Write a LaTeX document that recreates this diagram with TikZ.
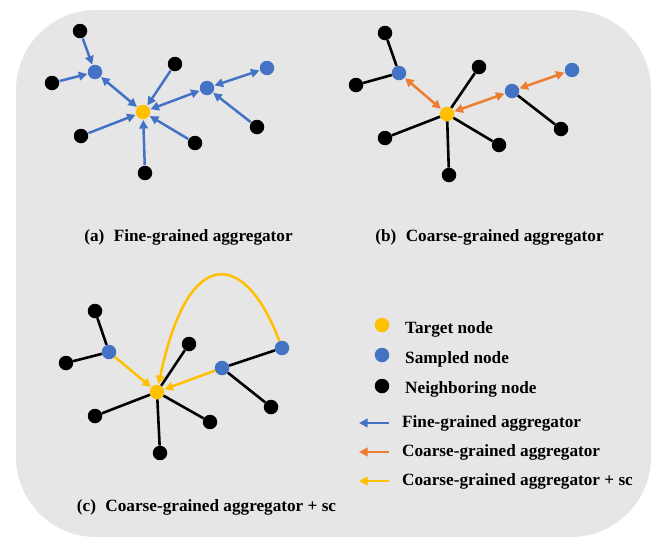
\documentclass[tikz,border=0pt]{standalone}
\usepackage{fontspec}
\setmainfont{Liberation Serif}
\usetikzlibrary{arrows.meta}
\definecolor{bgc}{RGB}{230,230,230}
\definecolor{bluec}{RGB}{68,114,196}
\definecolor{orangec}{RGB}{237,125,49}
\definecolor{yellowc}{RGB}{255,192,0}
\tikzset{
  dot/.style={circle, minimum size=14.5pt, inner sep=0pt, draw=none},
  tnode/.style={dot, fill=yellowc},
  snode/.style={dot, fill=bluec},
  nnode/.style={dot, fill=black},
  plain/.style={line width=2.6pt, black},
  tip/.style={-{Triangle[length=8.5pt,width=8.5pt]}},
  dtip/.style={{Triangle[length=8.5pt,width=8.5pt]}-{Triangle[length=8.5pt,width=8.5pt]}},
  fine/.style={line width=2.5pt, bluec, shorten >=0.5pt, shorten <=0.5pt},
  coarse/.style={line width=2.5pt, orangec, shorten >=0.5pt, shorten <=0.5pt},
  sc/.style={line width=2.5pt, yellowc, shorten >=0.5pt},
  lbl/.style={font=\bfseries\fontsize{17.2}{20}\selectfont, inner sep=0pt},
}
\begin{document}
\begin{tikzpicture}[x=1pt,y=-1pt]
\useasboundingbox (0,0) rectangle (664,549);
\fill[bgc, rounded corners=80pt] (16,10) rectangle (651,537);

% ---------- panel (a)
\node[nnode] (a1) at (80,31) {};
\node[snode] (a2) at (95,72) {};
\node[nnode] (a3) at (52,83) {};
\node[nnode] (a4) at (175,64) {};
\node[tnode] (ay) at (143,112) {};
\node[snode] (a5) at (207,88) {};
\node[snode] (a6) at (267,68) {};
\node[nnode] (a7) at (257,127) {};
\node[nnode] (a8) at (81,136) {};
\node[nnode] (a9) at (195,143) {};
\node[nnode] (a10) at (145,173) {};
\draw[fine,tip] (a1) -- (a2);
\draw[fine,tip] (a3) -- (a2);
\draw[fine,dtip] (a2) -- (ay);
\draw[fine,tip] (a4) -- (ay);
\draw[fine,dtip] (a5) -- (ay);
\draw[fine,dtip] (a6) -- (a5);
\draw[fine,tip] (a7) -- (a5);
\draw[fine,tip] (a8) -- (ay);
\draw[fine,tip] (a9) -- (ay);
\draw[fine,tip] (a10) -- (ay);

% ---------- panel (b)
\node[nnode] (b1) at (385,33) {};
\node[snode] (b2) at (399,73) {};
\node[nnode] (b3) at (356,85) {};
\node[nnode] (b4) at (479,67) {};
\node[tnode] (by) at (447,114) {};
\node[snode] (b5) at (512,91) {};
\node[snode] (b6) at (572,70) {};
\node[nnode] (b7) at (561,129) {};
\node[nnode] (b8) at (385,138) {};
\node[nnode] (b9) at (499,145) {};
\node[nnode] (b10) at (449,175) {};
\draw[plain] (b1) -- (b2);
\draw[plain] (b3) -- (b2);
\draw[plain] (b4) -- (by);
\draw[plain] (b8) -- (by);
\draw[plain] (b9) -- (by);
\draw[plain] (b10) -- (by);
\draw[plain] (b5) -- (b7);
\draw[coarse,dtip] (b2) -- (by);
\draw[coarse,dtip] (by) -- (b5);
\draw[coarse,dtip] (b5) -- (b6);

% ---------- panel (c)
\node[nnode] (c1) at (95,311) {};
\node[snode] (c2) at (109,352) {};
\node[nnode] (c3) at (66,363) {};
\node[nnode] (c4) at (189,344) {};
\node[tnode] (cy) at (157,392) {};
\node[snode] (c5) at (222,368) {};
\node[snode] (c6) at (282,348) {};
\node[nnode] (c7) at (271,407) {};
\node[nnode] (c8) at (95,416) {};
\node[nnode] (c9) at (210,422) {};
\node[nnode] (c10) at (160,453) {};
\draw[plain] (c1) -- (c2);
\draw[plain] (c3) -- (c2);
\draw[plain] (c4) -- (cy);
\draw[plain] (c8) -- (cy);
\draw[plain] (c9) -- (cy);
\draw[plain] (c10) -- (cy);
\draw[plain] (c5) -- (c6);
\draw[plain] (c5) -- (c7);
\draw[sc,tip] (c2) -- (cy);
\draw[sc,tip] (c5) -- (cy);
\draw[sc,tip] (c6) .. controls (245,250) and (188,243) .. (cy);

% ---------- captions
\node[lbl] (capa) at (188.5,237) {(a)\hspace{0.55em}Fine-grained aggregator};
\node[lbl] (capb) at (489.5,237) {(b)\hspace{0.55em}Coarse-grained aggregator};
\node[lbl] (capc) at (206.5,507) {(c)\hspace{0.55em}Coarse-grained aggregator + sc};

% ---------- legend
\node[tnode] (lt) at (382,325) {};
\node[snode] (ls) at (382,355) {};
\node[nnode] (ln) at (382,386) {};
\node[lbl, anchor=west] (ltt) at (405,329) {Target node};
\node[lbl, anchor=west] (lst) at (405,359) {Sampled node};
\node[lbl, anchor=west] (lnt) at (405,389) {Neighboring node};
\coordinate (f1) at (389,423); \coordinate (f0) at (359,423);
\coordinate (o1) at (389,452); \coordinate (o0) at (359,452);
\coordinate (y1) at (389,481); \coordinate (y0) at (359,481);
\draw[line width=2.5pt, bluec, tip] (f1) -- (f0);
\draw[line width=2.5pt, orangec, tip] (o1) -- (o0);
\draw[line width=2.5pt, yellowc, tip] (y1) -- (y0);
\node[lbl, anchor=west] (lft) at (402,423) {Fine-grained aggregator};
\node[lbl, anchor=west] (lot) at (402,452) {Coarse-grained aggregator};
\node[lbl, anchor=west] (lyt) at (402,481) {Coarse-grained aggregator + sc};
\end{tikzpicture}
\end{document}
